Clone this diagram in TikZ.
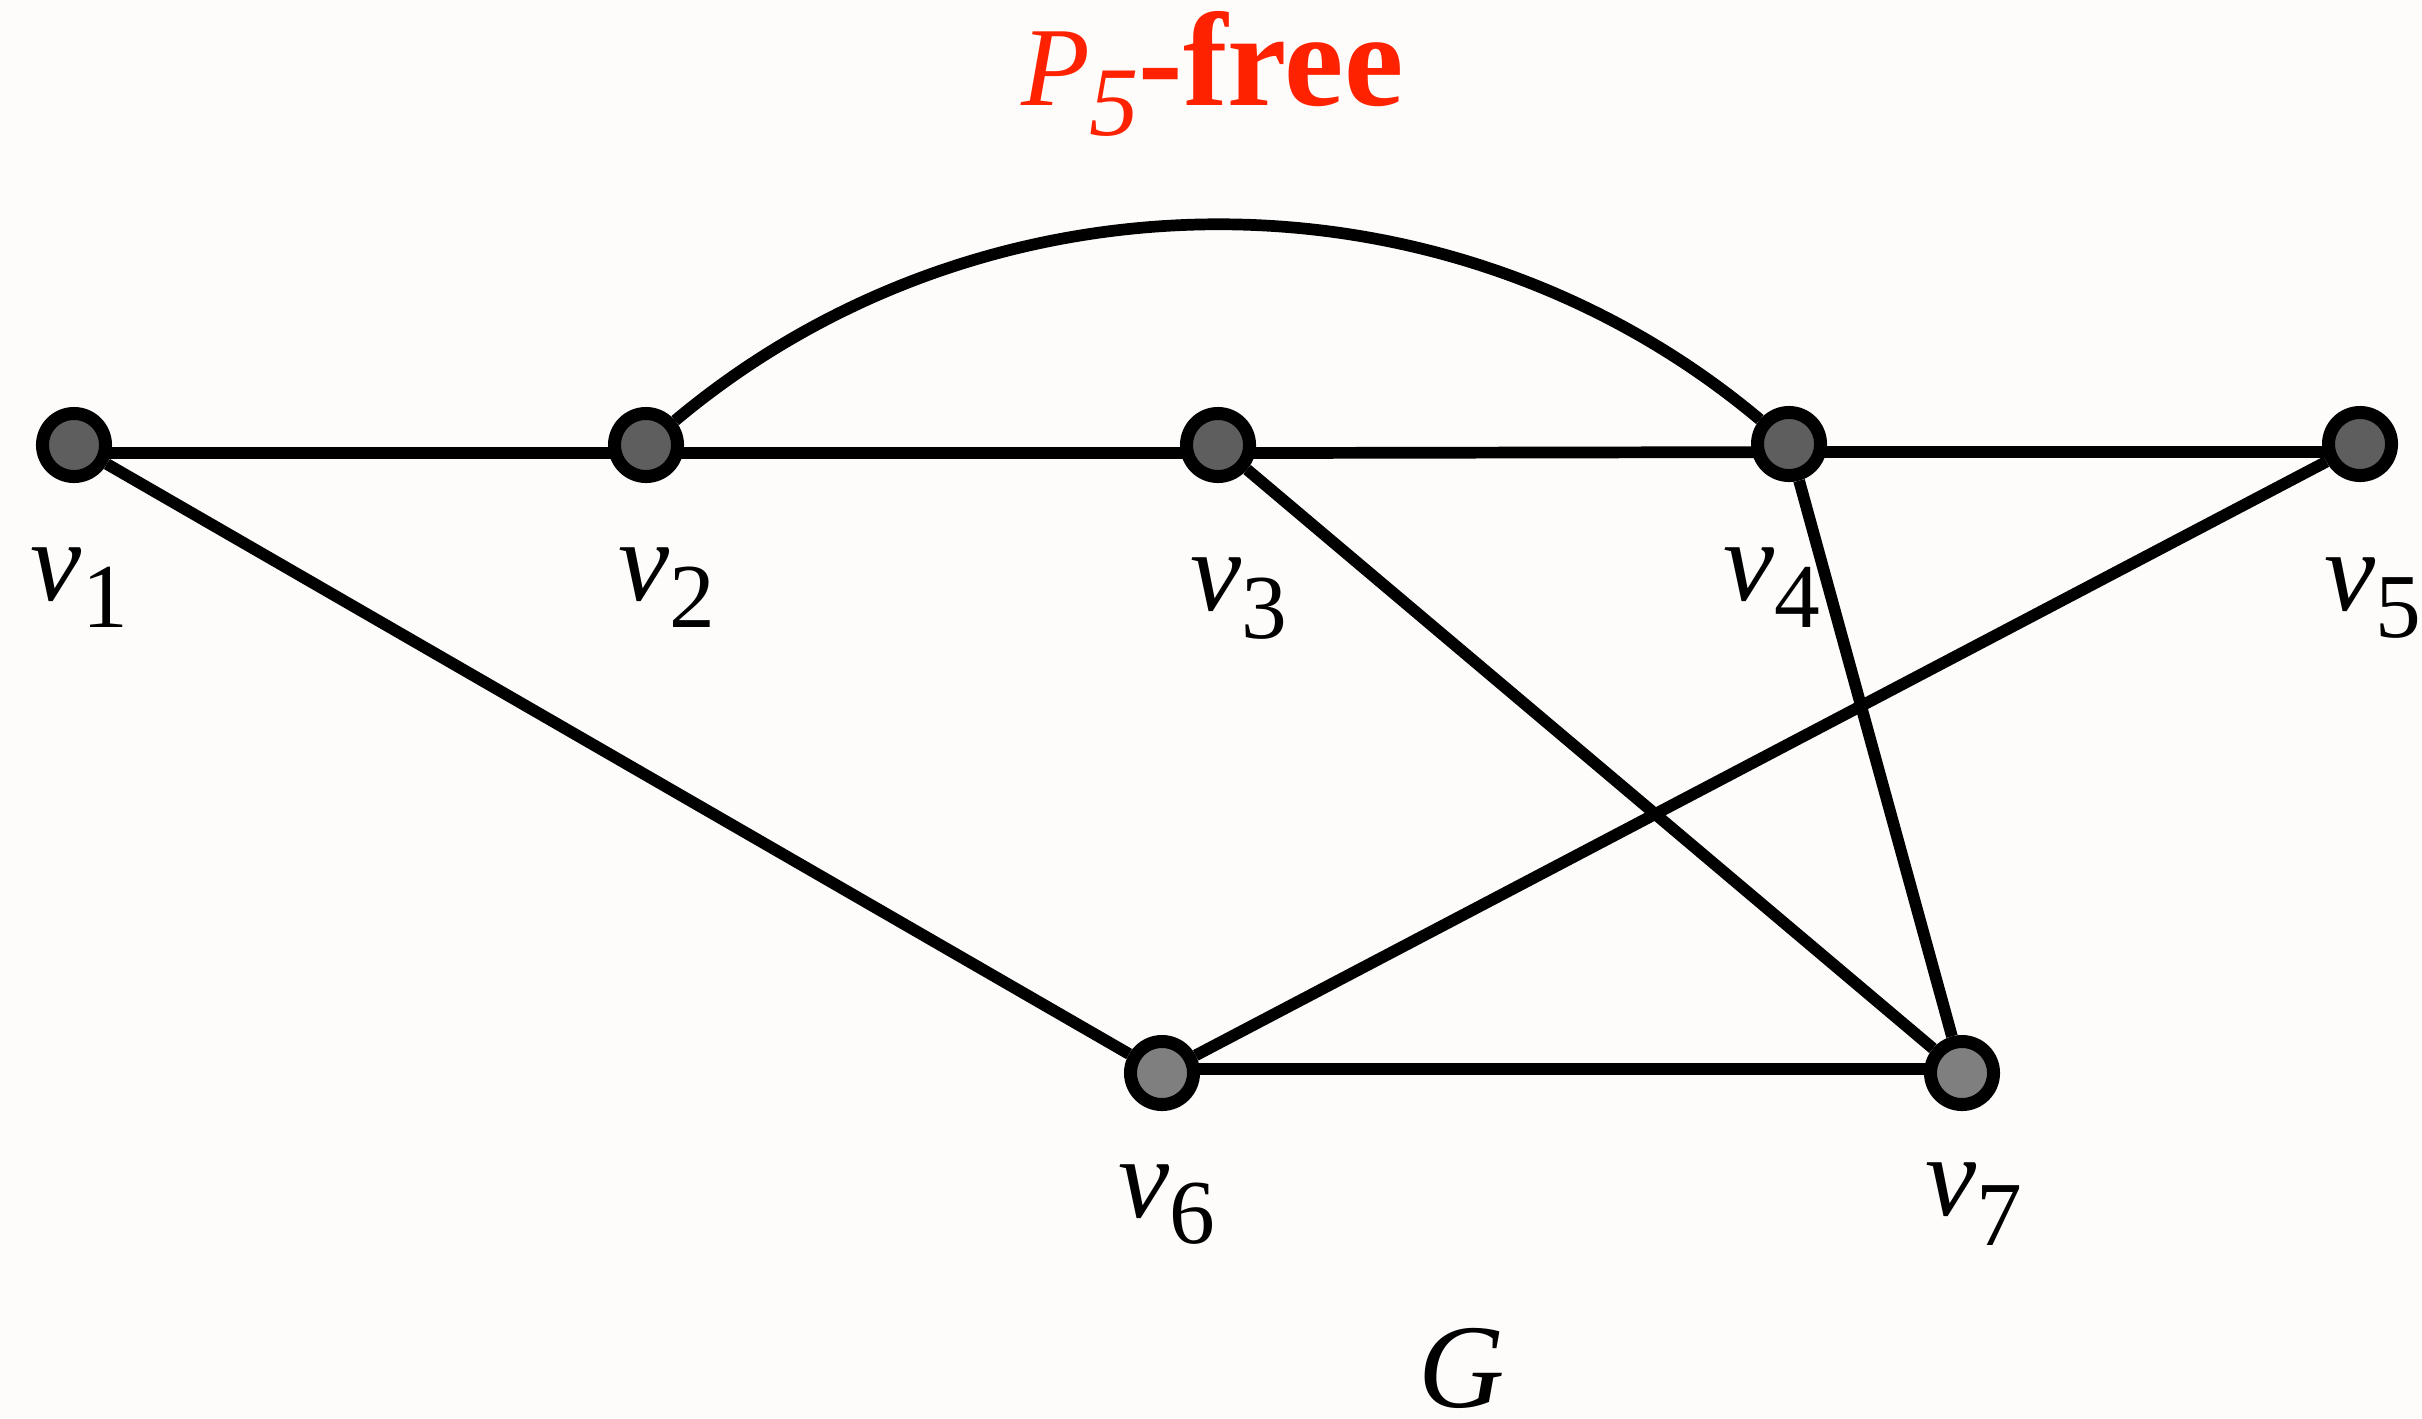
\documentclass[tikz,border=0pt]{standalone}
\usepackage{fontspec}
\setmainfont{Liberation Serif}
\definecolor{bgc}{RGB}{253,252,250}
\definecolor{ttl}{RGB}{255,34,0}
\definecolor{nodeA}{RGB}{94,94,94}
\definecolor{nodeB}{RGB}{127,127,127}
\pgfdeclarelayer{bg}
\pgfdeclarelayer{edges}
\pgfsetlayers{bg,edges,main}
\newcommand{\mainsz}{\fontsize{32.7pt}{36pt}\selectfont}
\newcommand{\subsz}{\fontsize{26pt}{30pt}\selectfont}
\newcommand{\vlab}[2]{\mainsz\textit{v}\raisebox{-#2\dimexpr 0.2845pt\relax}{\subsz #1}}
\tikzset{
  vert/.style={circle, draw=black, line width=3.7pt, minimum size=0.63cm, inner sep=0pt},
  vtop/.style={vert, fill=nodeA},
  vbot/.style={vert, fill=nodeB},
  edge/.style={draw=black, line width=3.33pt},
  lab/.style={anchor=base west, inner sep=0pt, outer sep=0pt}
}
\begin{document}
\begin{tikzpicture}[x=0.01cm, y=-0.01cm]
\begin{pgfonlayer}{bg}
\fill[bgc] (0,0) rectangle (2422,1418);
\end{pgfonlayer}
\useasboundingbox (0,0) rectangle (2422,1418);
% vertices
\node[vtop] (v1) at (74,445) {};
\node[vtop] (v2) at (646,445) {};
\node[vtop] (v3) at (1218,445) {};
\node[vtop] (v4) at (1789,444) {};
\node[vtop] (v5) at (2360,444) {};
\node[vbot] (v6) at (1162,1073) {};
\node[vbot] (v7) at (1962,1073) {};
% edges
\begin{pgfonlayer}{edges}
\draw[edge] ([yshift=-2.3pt]v1.center) -- ([yshift=-2.3pt]v2.center);
\draw[edge] ([yshift=-2.3pt]v2.center) -- ([yshift=-2.3pt]v3.center);
\draw[edge] ([yshift=-2.3pt]v3.center) -- ([yshift=-2.3pt]v4.center);
\draw[edge] ([yshift=-2.3pt]v4.center) -- ([yshift=-2.3pt]v5.center);
\draw[edge] ([yshift=1.1pt]v6.center) -- ([yshift=1.1pt]v7.center);
\end{pgfonlayer}
\draw[edge] (v1) -- (v6);
\draw[edge] (v3) -- (v7);
\draw[edge] (v4) -- (v7);
\draw[edge] (v5) -- (v6);
\draw[edge] (v2) to[out=40, in=140, looseness=0.96] (v4);
% labels
\node[lab] (l1) at (31,600) {\vlab{1}{27}};
\node[lab] (l2) at (618,600) {\vlab{2}{27}};
\node[lab] (l3) at (1190,610) {\vlab{3}{28}};
\node[lab] (l4) at (1723,600) {\vlab{4}{27}};
\node[lab] (l5) at (2324,610) {\vlab{5}{27}};
\node[lab] (l6) at (1118,1217) {\vlab{6}{26}};
\node[lab] (l7) at (1925,1215) {\vlab{7}{30}};
% title and caption
\node[lab, text=ttl] (title) at (1021,105) {\fontsize{32pt}{36pt}\selectfont\textit{P}\raisebox{-30\dimexpr 0.2845pt\relax}{\fontsize{28pt}{30pt}\selectfont\textit{5}}\fontsize{38pt}{40pt}\selectfont\textbf{-free}};
\node[lab] (gname) at (1418,1407) {\fontsize{34pt}{38pt}\selectfont\textit{G}};
\end{tikzpicture}
\end{document}
